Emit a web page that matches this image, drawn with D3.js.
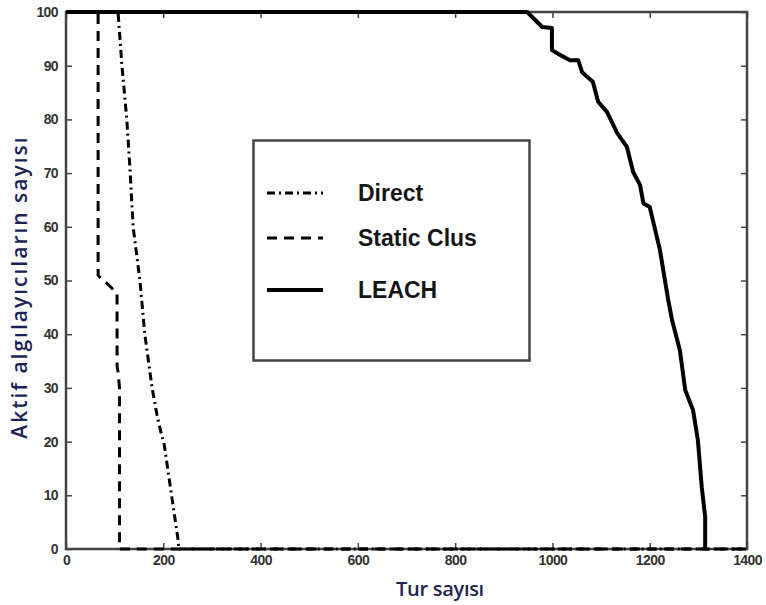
<!DOCTYPE html>
<html>
<head>
<meta charset="utf-8">
<script src="https://cdn.jsdelivr.net/npm/d3@7.9.0/dist/d3.min.js"></script>
<style>
  html, body { margin: 0; padding: 0; background: #fff; }
  svg { display: block; }
</style>
</head>
<body>
<div id="chart"></div>
<script>
// values
const xTicks = [0, 200, 400, 600, 800, 1000, 1200, 1400];
const yTicks = [0, 10, 20, 30, 40, 50, 60, 70, 80, 90, 100];

const directX = [0, 107, 115, 125, 132, 138, 152, 162, 177, 187, 197, 201, 217, 230, 232, 1400];
const directY = [100, 100, 90, 80, 70, 60, 50, 40, 30, 25, 21, 20, 10, 2, 0, 0];

const staticX = [0, 66, 66, 75, 84, 95, 105, 105, 107, 110, 110, 1400];
const staticY = [100, 100, 51, 50, 49.5, 48.5, 47.7, 34, 33, 30, 0, 0];

const leachX = [0, 948, 979, 999, 999, 1016, 1036, 1053, 1061, 1083, 1094, 1112, 1133, 1153, 1166,
  1180, 1187, 1200, 1221, 1238, 1246, 1262, 1273, 1289, 1299, 1307, 1314, 1314];
const leachY = [100, 100, 97.2, 97, 92.9, 92, 91, 91, 88.8, 87, 83.3, 81.4, 77.5, 74.9, 70.2,
  67.8, 64.4, 63.7, 55.7, 46.4, 42.6, 37, 29.6, 25.9, 20.3, 11.5, 6, 0];

const seriesNames = ['Direct', 'Static Clus', 'LEACH'];

const series = [
  { name: seriesNames[0], xs: directX, ys: directY, dash: '8,4,2,4', width: 3 },
  { name: seriesNames[1], xs: staticX, ys: staticY, dash: '10,7', width: 3 },
  { name: seriesNames[2], xs: leachX, ys: leachY, dash: null, width: 4 },
];

const width = 766;
const height = 605;
const margin = { top: 12, right: 19, bottom: 56, left: 66 };

const svg = d3.select('#chart')
  .append('svg')
  .attr('width', width)
  .attr('height', height);

const xScale = d3.scaleLinear()
  .domain([0, 1400])
  .range([margin.left, width - margin.right]);
const yScale = d3.scaleLinear()
  .domain([0, 100])
  .range([height - margin.bottom, margin.top]);

const frameColor = '#444';
const tickFont = 'Liberation Sans, Arial, sans-serif';

// inward ticks on all four sides, matlab style
const tickLen = 6;
const tickOpts = (axis) => axis.tickSizeInner(-tickLen).tickSizeOuter(0).tickPadding(tickLen + 6);

const xBottom = svg.append('g')
  .attr('transform', `translate(0, ${yScale(0)})`)
  .call(tickOpts(d3.axisBottom(xScale).tickValues(xTicks).tickFormat(d3.format('d'))));
const xTop = svg.append('g')
  .attr('transform', `translate(0, ${yScale(100)})`)
  .call(tickOpts(d3.axisTop(xScale).tickValues(xTicks)).tickFormat(''));
const yLeft = svg.append('g')
  .attr('transform', `translate(${xScale(0)}, 0)`)
  .call(tickOpts(d3.axisLeft(yScale).tickValues(yTicks).tickFormat(d3.format('d'))));
const yRight = svg.append('g')
  .attr('transform', `translate(${xScale(1400)}, 0)`)
  .call(tickOpts(d3.axisRight(yScale).tickValues(yTicks)).tickFormat(''));

[xBottom, xTop, yLeft, yRight].forEach((g) => {
  g.select('.domain').remove();
  g.selectAll('.tick line').attr('stroke', frameColor).attr('stroke-width', 1.5);
  g.selectAll('.tick text')
    .attr('fill', '#333')
    .style('font-family', tickFont)
    .style('font-size', '14px')
    .style('font-weight', 'bold')
    .style('letter-spacing', '-0.6px');
});
xBottom.selectAll('.tick text').attr('dy', '0.3em');
yLeft.selectAll('.tick text').attr('x', -8);

// frame
svg.append('rect')
  .attr('x', xScale(0))
  .attr('y', yScale(100))
  .attr('width', xScale(1400) - xScale(0))
  .attr('height', yScale(0) - yScale(100))
  .attr('fill', 'none')
  .attr('stroke', frameColor)
  .attr('stroke-width', 2.5);

const line = d3.line()
  .x((d) => xScale(d[0]))
  .y((d) => yScale(d[1]));

svg.append('g')
  .selectAll('path')
  .data(series)
  .join('path')
  .attr('d', (s) => line(s.xs.map((x, i) => [x, s.ys[i]])))
  .attr('fill', 'none')
  .attr('stroke', '#000')
  .attr('stroke-width', (s) => s.width)
  .attr('stroke-dasharray', (s) => s.dash)
  .attr('stroke-linejoin', 'round');

// legend
const legend = svg.append('g');
legend.append('rect')
  .attr('x', 253.5)
  .attr('y', 140.5)
  .attr('width', 276)
  .attr('height', 220)
  .attr('fill', '#fff')
  .attr('stroke', frameColor)
  .attr('stroke-width', 2.5);

const legendRows = [193, 238, 290];
const items = legend.selectAll('g.item')
  .data(series)
  .join('g')
  .attr('class', 'item')
  .attr('transform', (d, i) => `translate(0, ${legendRows[i]})`);

items.append('line')
  .attr('x1', 267)
  .attr('x2', 323)
  .attr('stroke', '#000')
  .attr('stroke-width', (s) => s.width)
  .attr('stroke-dasharray', (s) => s.dash);

items.append('text')
  .attr('x', 358)
  .attr('dy', '0.36em')
  .text((s) => s.name)
  .style('font-family', tickFont)
  .style('font-size', '23px')
  .style('font-weight', 'bold')
  .attr('fill', '#161616');

// axis titles
const titleColor = '#1d2455';
svg.append('text')
  .attr('x', 440)
  .attr('y', 596)
  .attr('text-anchor', 'middle')
  .text('Tur sayısı')
  .style('font-family', 'Open Sans, sans-serif')
  .style('font-size', '20px')
  .style('font-weight', '600')
  .style('letter-spacing', '-0.3px')
  .attr('fill', titleColor);

svg.append('text')
  .attr('transform', 'translate(27, 287) rotate(-90)')
  .attr('text-anchor', 'middle')
  .text('Aktif algılayıcıların sayısı')
  .style('font-family', 'Open Sans, sans-serif')
  .style('font-size', '21px')
  .style('font-weight', '600')
  .style('letter-spacing', '2px')
  .attr('fill', titleColor);
</script>
</body>
</html>
